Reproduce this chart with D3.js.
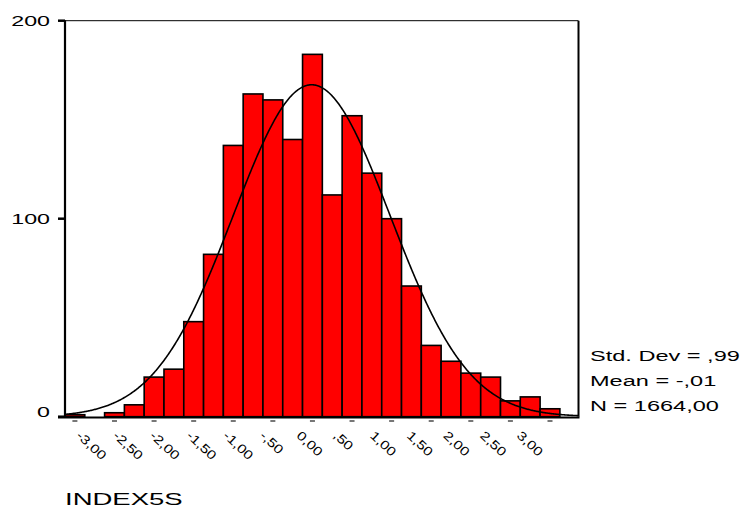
<!DOCTYPE html>
<html><head><meta charset="utf-8">
<script src="https://cdn.jsdelivr.net/npm/d3@7"></script>
<style>body{margin:0;background:#fff}svg{display:block}text{font-family:"Liberation Sans",Arial,sans-serif;fill:#000}</style>
</head><body><svg id="c" width="745" height="510"></svg>
<script>
const binCenters = [-3.00,-2.75,-2.50,-2.25,-2.00,-1.75,-1.50,-1.25,-1.00,-0.75,-0.50,-0.25,0.00,0.25,0.50,0.75,1.00,1.25,1.50,1.75,2.00,2.25,2.50,2.75,3.00];
const counts = [1,0,2,6,20,24,48,82,137,163,160,140,183,112,152,123,100,66,36,28,22,20,8,10,4];
const xTickValues = [-3,-2.5,-2,-1.5,-1,-0.5,0,0.5,1,1.5,2,2.5,3];
const xTickLabels = ["-3,00","-2,50","-2,00","-1,50","-1,00","-,50","0,00",",50","1,00","1,50","2,00","2,50","3,00"];
const yTickValues = [0,100,200];
const statLabels = ["Std. Dev = ,99","Mean = -,01","N = 1664,00"];
const stdDev = 0.99, mean = -0.01, nTotal = 1664, binWidth = 0.25;
const axisTitle = "INDEX5S";

const svg = d3.select("#c");
const L = 65, R = 578.5, T = 20.7, B = 416.7;
const x = d3.scaleLinear().domain([-3.125, 3.36]).range([L, R]);
const y = d3.scaleLinear().domain([0, 200]).range([B, T]);
const labelX = d3.scaleLinear().domain([-3, 3]).range([75.5, 516]);

svg.append("defs").append("clipPath").attr("id","clip")
  .append("rect").attr("x",L).attr("y",T).attr("width",R-L).attr("height",B-T);

// bars
const bins = binCenters.map((c,i)=>({c, v:counts[i]})).filter(d=>d.v>0);
svg.append("g").selectAll("rect").data(bins).join("rect")
  .attr("x", d=>x(d.c-binWidth/2))
  .attr("width", d=>x(d.c+binWidth/2)-x(d.c-binWidth/2))
  .attr("y", d=>y(d.v))
  .attr("height", d=>y(0)-y(d.v))
  .attr("fill","#ff0000").attr("stroke","#000").attr("stroke-width",1.6);

// normal curve
const peak = nTotal*binWidth/(stdDev*Math.sqrt(2*Math.PI));
const pts = d3.range(-3.125, 3.365, 0.01).map(v=>[v, peak*Math.exp(-0.5*Math.pow((v-mean)/stdDev,2))]);
svg.append("path").datum(pts).attr("clip-path","url(#clip)")
  .attr("d", d3.line().x(d=>x(d[0])).y(d=>y(d[1])))
  .attr("fill","none").attr("stroke","#000").attr("stroke-width",1.6);

// frame
svg.append("line").attr("x1",L).attr("x2",R).attr("y1",T).attr("y2",T).attr("stroke","#000").attr("stroke-width",1);
svg.append("line").attr("x1",R).attr("x2",R).attr("y1",T).attr("y2",B).attr("stroke","#000").attr("stroke-width",2);
svg.append("line").attr("x1",L).attr("x2",L).attr("y1",T-0.5).attr("y2",B+1).attr("stroke","#000").attr("stroke-width",2.2);
svg.append("line").attr("x1",58).attr("x2",R+1).attr("y1",B+0.8).attr("y2",B+0.8).attr("stroke","#000").attr("stroke-width",2.2);

// y ticks + labels
const yg = svg.append("g");
yTickValues.forEach(v=>{
  yg.append("line").attr("x1",58).attr("x2",L).attr("y1",y(v)).attr("y2",y(v)).attr("stroke","#000").attr("stroke-width",2.5);
  const ty = v===0 ? y(v)-5.5 : y(v);
  yg.append("text").attr("transform",`translate(50,${ty}) scale(1.55,1)`)
    .attr("text-anchor","end").attr("dy","0.36em").attr("font-size",15).text(v);
});

// x ticks + labels
const xg = svg.append("g");
xTickValues.forEach((v,i)=>{
  xg.append("rect").attr("x",x(v)-2.5).attr("y",420).attr("width",5).attr("height",2).attr("fill","#777");
  xg.append("text").attr("transform",`translate(${labelX(v)},436.5) rotate(43) scale(1.25,1)`)
    .attr("text-anchor","start").attr("font-size",12.5).text(xTickLabels[i]);
});

// stats
statLabels.forEach((s,i)=>{
  svg.append("text").attr("transform",`translate(590,${361+i*25}) scale(1.57,1)`)
    .attr("font-size",15).text(s);
});

// axis title
svg.append("text").attr("transform","translate(65,505) scale(1.72,1)")
  .attr("font-size",16).text(axisTitle);
</script></body></html>
